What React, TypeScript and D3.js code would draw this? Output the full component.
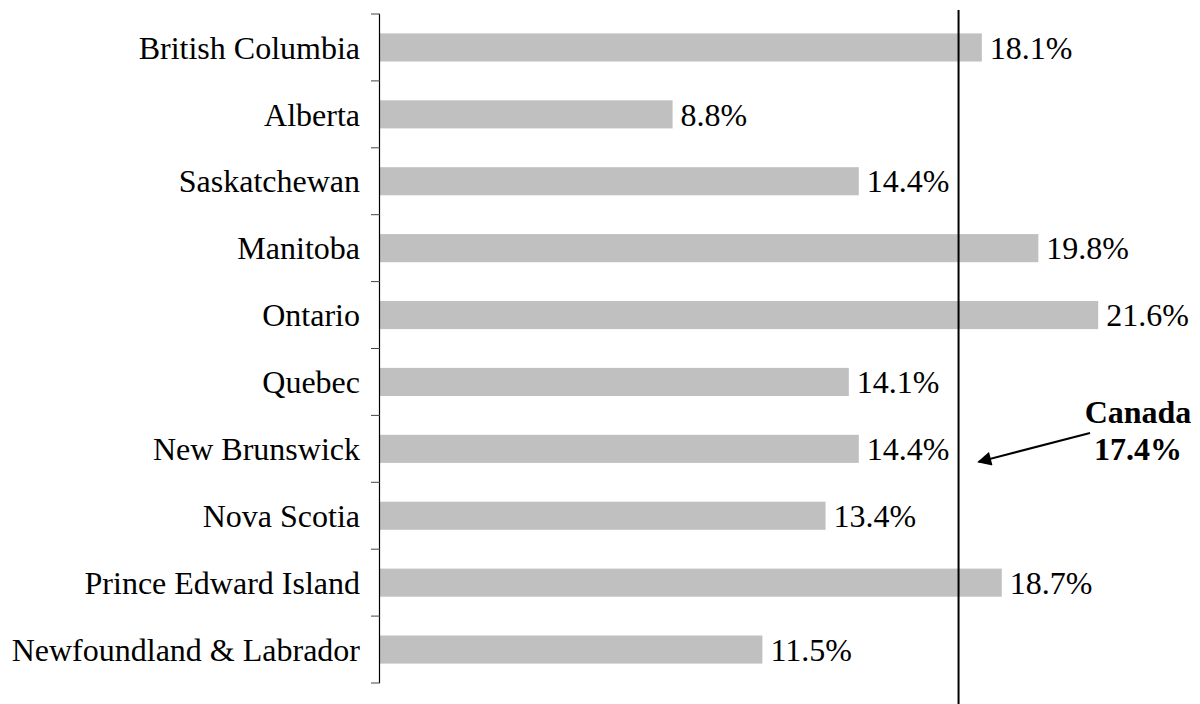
import React, { useRef, useEffect } from 'react'
import * as d3 from 'd3'

const provinces = [
  'British Columbia',
  'Alberta',
  'Saskatchewan',
  'Manitoba',
  'Ontario',
  'Quebec',
  'New Brunswick',
  'Nova Scotia',
  'Prince Edward Island',
  'Newfoundland & Labrador'
]
const shares = [18.1, 8.8, 14.4, 19.8, 21.6, 14.1, 14.4, 13.4, 18.7, 11.5]
const canadaLabel = 'Canada'
const canadaValue = 17.4

const W = 1200
const H = 704
const FONT = '"Liberation Serif", "Times New Roman", serif'

const App = () => {
  const ref = useRef<SVGSVGElement>(null)

  useEffect(() => {
    if (!ref.current) return
    const svg = d3.select(ref.current)
    svg.selectAll('*').remove()

    const x = d3.scaleLinear().domain([0, 22]).range([380, 380 + 22 * 33.25])
    const y = d3
      .scaleBand<string>()
      .domain(provinces)
      .range([14, 683])
      .paddingInner(0.58)
      .paddingOuter(0.29)

    const rows = provinces.map((p, i) => ({ name: p, value: shares[i] }))

    // bars
    svg
      .append('g')
      .selectAll('rect')
      .data(rows)
      .join('rect')
      .attr('x', x(0))
      .attr('y', d => y(d.name)!)
      .attr('width', d => x(d.value) - x(0))
      .attr('height', y.bandwidth())
      .attr('fill', '#c0c0c0')

    // value labels
    svg
      .append('g')
      .selectAll('text')
      .data(rows)
      .join('text')
      .attr('x', d => x(d.value) + 8)
      .attr('y', d => y(d.name)! + y.bandwidth() / 2)
      .attr('dy', '0.35em')
      .style('font', `32px ${FONT}`)
      .attr('fill', '#000')
      .text(d => `${d.value.toFixed(1)}%`)

    // category axis: line + ticks at band boundaries
    const [y0, y1] = y.range()
    const step = y.step()
    const axis = svg.append('g')
    axis
      .append('line')
      .attr('x1', x(0) - 0.5)
      .attr('x2', x(0) - 0.5)
      .attr('y1', y0)
      .attr('y2', y1)
      .attr('stroke', '#000')
      .attr('stroke-width', 1.2)
    axis
      .selectAll('line.tick')
      .data(d3.range(provinces.length + 1))
      .join('line')
      .attr('class', 'tick')
      .attr('x1', x(0) - 9)
      .attr('x2', x(0))
      .attr('y1', i => y0 + i * step)
      .attr('y2', i => y0 + i * step)
      .attr('stroke', '#444')
      .attr('stroke-width', 1)
    axis
      .selectAll('text')
      .data(provinces)
      .join('text')
      .attr('x', x(0) - 20)
      .attr('y', d => y(d)! + y.bandwidth() / 2)
      .attr('dy', '0.35em')
      .attr('text-anchor', 'end')
      .style('font', `32px ${FONT}`)
      .attr('fill', '#000')
      .text(d => d)

    // Canada reference line
    const cx = x(canadaValue)
    svg
      .append('line')
      .attr('x1', cx)
      .attr('x2', cx)
      .attr('y1', 10)
      .attr('y2', H)
      .attr('stroke', '#000')
      .attr('stroke-width', 2)

    // annotation
    const labelX = 1138
    const note = svg
      .append('text')
      .attr('text-anchor', 'middle')
      .style('font', `bold 32px ${FONT}`)
      .attr('fill', '#000')
    note.append('tspan').attr('x', labelX).attr('y', 423).text(canadaLabel)
    note
      .append('tspan')
      .attr('x', labelX)
      .attr('y', 460)
      .text(`${canadaValue.toFixed(1)}%`)

    svg
      .append('defs')
      .append('marker')
      .attr('id', 'arrow')
      .attr('viewBox', '0 0 10 10')
      .attr('refX', 9)
      .attr('refY', 5)
      .attr('markerWidth', 9)
      .attr('markerHeight', 7)
      .attr('markerUnits', 'strokeWidth')
      .attr('orient', 'auto')
      .append('path')
      .attr('d', 'M0,0L10,5L0,10z')
      .attr('fill', '#000')

    const tipY = y('New Brunswick')! + y.bandwidth() / 2 + 13
    svg
      .append('line')
      .attr('x1', labelX - 48)
      .attr('y1', 433)
      .attr('x2', cx + 20)
      .attr('y2', tipY)
      .attr('stroke', '#000')
      .attr('stroke-width', 2)
      .attr('marker-end', 'url(#arrow)')
  }, [])

  return (
    <svg
      ref={ref}
      width={W}
      height={H}
      style={{ position: 'absolute', left: 0, top: 0, background: '#fff' }}
    />
  )
}

export default App
